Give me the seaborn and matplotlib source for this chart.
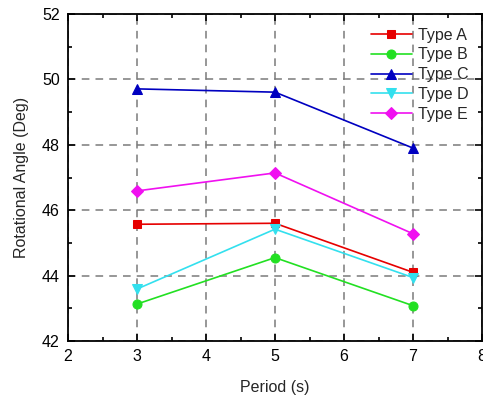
import matplotlib
matplotlib.use("Agg")
import matplotlib.pyplot as plt
import seaborn as sns
import pandas as pd
from matplotlib.ticker import MultipleLocator

periods = [3, 5, 7]
type_a = [45.57, 45.60, 44.10]
type_b = [43.13, 44.55, 43.08]
type_c = [49.71, 49.61, 47.90]
type_d = [43.59, 45.42, 43.94]
type_e = [46.59, 47.14, 45.28]
labels = ["Type A", "Type B", "Type C", "Type D", "Type E"]
series = [type_a, type_b, type_c, type_d, type_e]
colors = ["#e60000", "#22e022", "#0000c0", "#33e0ee", "#f010f0"]
markers = ["s", "o", "^", "v", "D"]
msizes = [6, 6.5, 6.5, 6.5, 6]

sns.set_style("ticks")
plt.rcParams["font.family"] = ["Liberation Sans", "DejaVu Sans"]

fig = plt.figure(figsize=(4.83, 4.01), dpi=100)
ax = fig.add_axes([68/483, 1-341/401, (482-68)/483, (341-14)/401])

for lab, vals, c, m, ms in zip(labels, series, colors, markers, msizes):
    df = pd.DataFrame({"Period": periods, "Angle": vals})
    sns.lineplot(data=df, x="Period", y="Angle", ax=ax, color=c, marker=m,
                 markersize=ms, markeredgecolor=c, linewidth=1.2, label=lab,
                 zorder=3)

ax.set_xlim(2, 8)
ax.set_ylim(42, 52)
ax.xaxis.set_major_locator(MultipleLocator(1))
ax.xaxis.set_minor_locator(MultipleLocator(0.5))
ax.yaxis.set_major_locator(MultipleLocator(2))
ax.yaxis.set_minor_locator(MultipleLocator(1))
ax.tick_params(which="both", direction="in", top=True, right=True,
               labeltop=False, labelright=False, width=1.2, colors="black")
ax.tick_params(which="major", length=5, labelsize=11.5, pad=6)
ax.tick_params(which="minor", length=3)
ax.grid(True, which="major", color="#7a7a7a", linestyle=(0, (5, 4)), linewidth=1.1, zorder=1)
for s in ax.spines.values():
    s.set_linewidth(1.3)
    s.set_color("black")

ax.set_xlabel("Period (s)", fontsize=11.5, labelpad=11)
ax.set_ylabel("Rotational Angle (Deg)", fontsize=11.5, labelpad=9)

ax.legend(loc="upper right", bbox_to_anchor=(1.0, 1.0), frameon=False, fontsize=11.5,
          handlelength=2.6, handletextpad=0.35, labelspacing=0.3, borderaxespad=0.45)

fig.savefig("out.png", dpi=100)
